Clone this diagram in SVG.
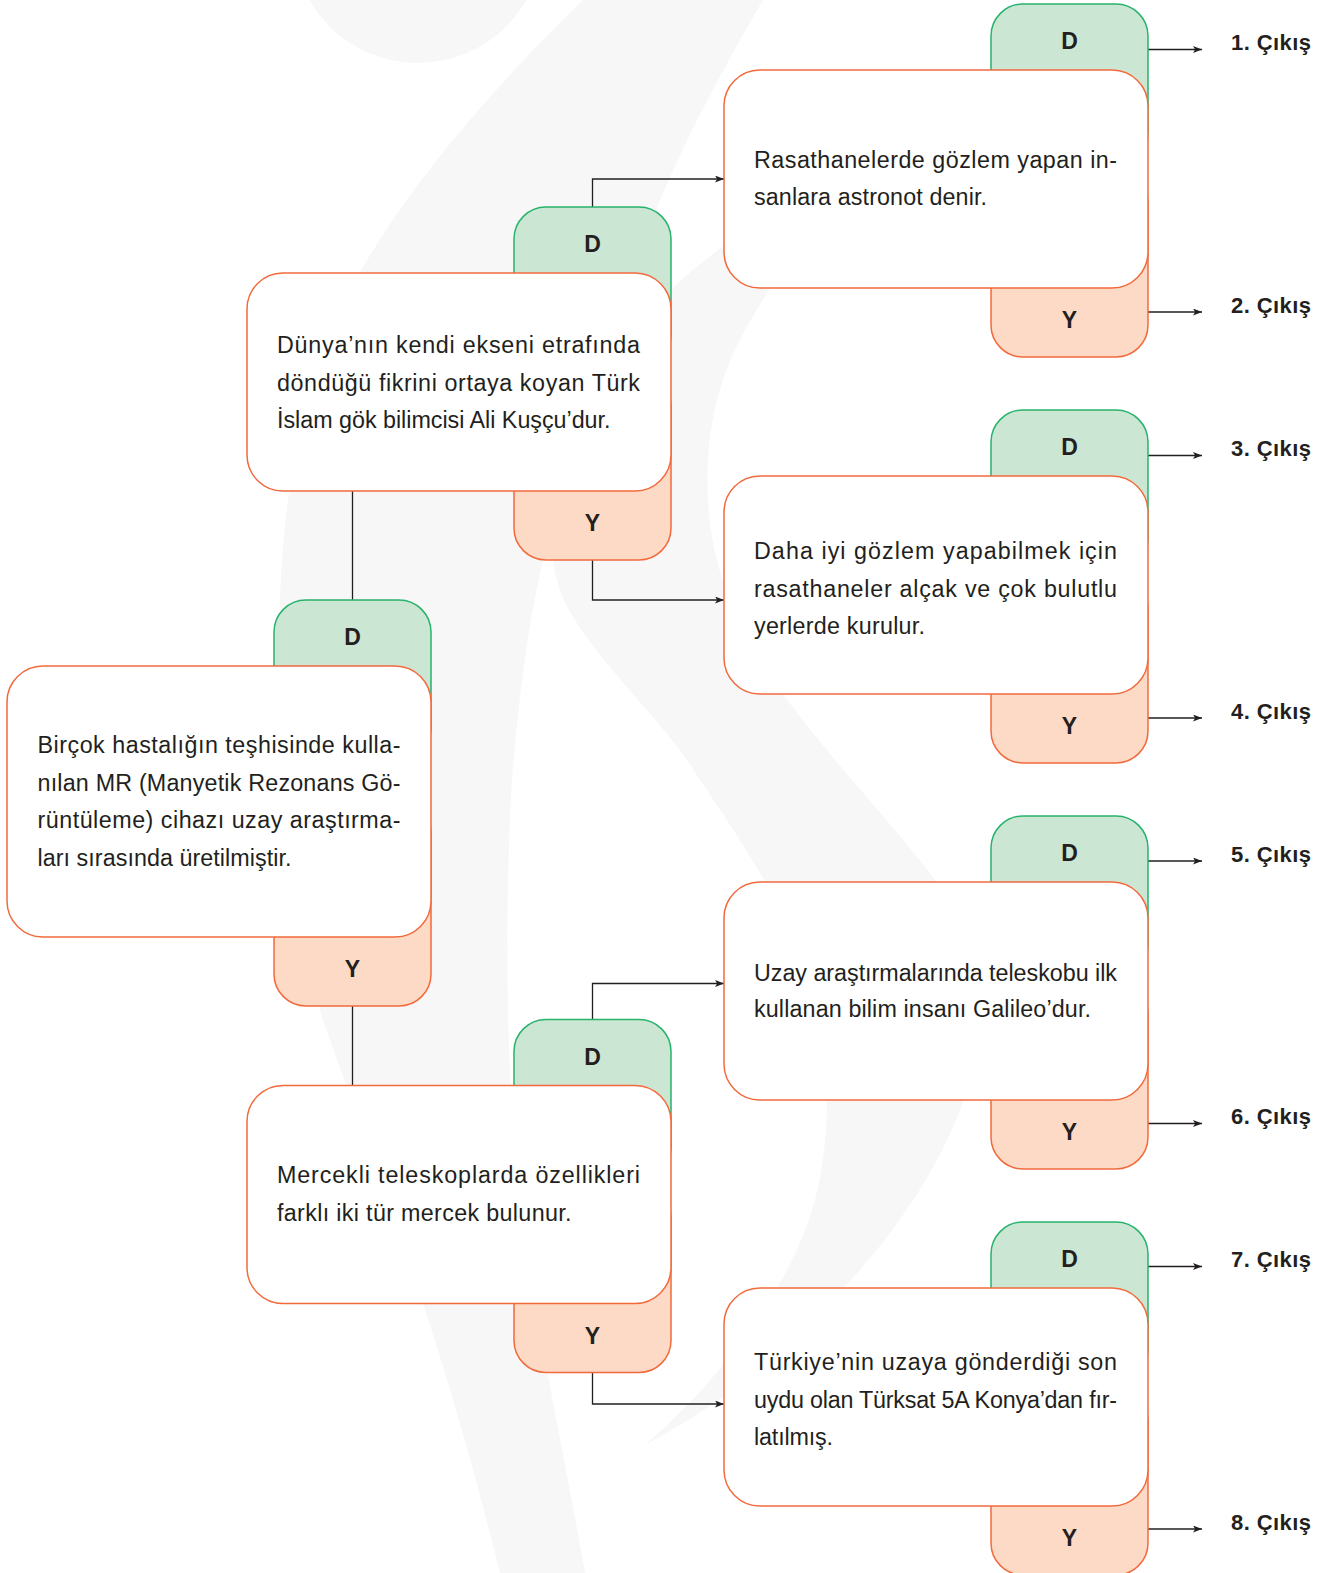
<svg xmlns="http://www.w3.org/2000/svg" width="1335" height="1573" viewBox="0 0 1335 1573">
<defs>
<style>
.wm{fill:#f7f7f7;stroke:none}
.box{fill:#ffffff;stroke:#f26a3c;stroke-width:1.5}
.tabD{fill:#cce6d4;stroke:#27b36c;stroke-width:1.5}
.tabY{fill:#fcdac5;stroke:#f26a3c;stroke-width:1.5}
.txt{font-family:"Liberation Sans",Arial,sans-serif;font-size:23.3px;fill:#231f20}
.lbl{font-family:"Liberation Sans",Arial,sans-serif;font-weight:bold;font-size:23px;fill:#231f20;text-anchor:middle}
.out{font-family:"Liberation Sans",Arial,sans-serif;font-weight:bold;font-size:22px;fill:#231f20}
.conn{stroke:#231f20;stroke-width:1.3;fill:none}
</style>
<marker id="arr" markerUnits="userSpaceOnUse" markerWidth="10" markerHeight="8" refX="9" refY="3.5" orient="auto">
<path d="M0,0 L9,3.5 L0,7 L2.2,3.5 Z" fill="#231f20"/>
</marker>
</defs>
<rect x="0" y="0" width="1335" height="1573" fill="#ffffff"/>
<g id="watermark">
<circle class="wm" cx="418" cy="-62" r="125"/>
<path class="wm" d="M583,0 C470,110 380,220 330,330 C285,440 275,580 280,720 C285,860 300,960 330,1040 C380,1180 440,1330 500,1573 L585,1573 C560,1430 530,1300 518,1180 C505,1060 505,900 512,780 C520,680 532,600 548,540 C570,440 610,330 660,200 C690,130 725,65 763,0 Z"/>
<path class="wm" d="M860,170 C815,215 780,270 745,330 C715,385 705,440 708,500 C712,570 735,625 780,690 C830,760 900,830 950,900 C990,960 990,1040 960,1110 C925,1200 860,1280 770,1360 C730,1395 690,1420 645,1445 C720,1380 790,1290 815,1200 C835,1120 830,1030 800,950 C770,880 720,810 680,750 C640,700 600,660 575,620 C552,585 545,545 560,480 C580,420 620,350 660,300 C720,240 790,200 860,170 Z"/>
</g>
<g id="connectors">
<line class="conn" x1="352.5" y1="491" x2="352.5" y2="600"/>
<line class="conn" x1="352.5" y1="1006" x2="352.5" y2="1085.5"/>
<polyline class="conn" points="592.5,207 592.5,179 724,179" marker-end="url(#arr)"/>
<polyline class="conn" points="592.5,560 592.5,600 724,600" marker-end="url(#arr)"/>
<polyline class="conn" points="592.5,1019.5 592.5,983.5 724,983.5" marker-end="url(#arr)"/>
<polyline class="conn" points="592.5,1372.5 592.5,1404 724,1404" marker-end="url(#arr)"/>
<line class="conn" x1="1148" y1="49.5" x2="1202" y2="49.5" marker-end="url(#arr)"/>
<line class="conn" x1="1148" y1="312" x2="1202" y2="312" marker-end="url(#arr)"/>
<line class="conn" x1="1148" y1="455.5" x2="1202" y2="455.5" marker-end="url(#arr)"/>
<line class="conn" x1="1148" y1="718" x2="1202" y2="718" marker-end="url(#arr)"/>
<line class="conn" x1="1148" y1="861" x2="1202" y2="861" marker-end="url(#arr)"/>
<line class="conn" x1="1148" y1="1123.5" x2="1202" y2="1123.5" marker-end="url(#arr)"/>
<line class="conn" x1="1148" y1="1266.5" x2="1202" y2="1266.5" marker-end="url(#arr)"/>
<line class="conn" x1="1148" y1="1529" x2="1202" y2="1529" marker-end="url(#arr)"/>
</g>
<g id="node-root">
<rect class="tabD" x="274" y="600" width="157" height="160" rx="32"/>
<rect class="tabY" x="274" y="800" width="157" height="206" rx="32"/>
<rect class="box" x="7" y="666" width="424" height="271" rx="36"/>
<text class="lbl" x="352.5" y="645">D</text>
<text class="lbl" x="352.5" y="977">Y</text>
<text class="txt" x="37.5" y="753.3" textLength="363" lengthAdjust="spacing">Birçok hastalığın teşhisinde kulla-</text>
<text class="txt" x="37.5" y="790.8" textLength="363" lengthAdjust="spacing">nılan MR (Manyetik Rezonans Gö-</text>
<text class="txt" x="37.5" y="828.3" textLength="363" lengthAdjust="spacing">rüntüleme) cihazı uzay araştırma-</text>
<text class="txt" x="37.5" y="865.8" textLength="254" lengthAdjust="spacing">ları sırasında üretilmiştir.</text>
</g>
<g id="node-a">
<rect class="tabD" x="514" y="207" width="157" height="160" rx="32"/>
<rect class="tabY" x="514" y="373" width="157" height="187" rx="32"/>
<rect class="box" x="247" y="273" width="424" height="218" rx="36"/>
<text class="lbl" x="592.5" y="252">D</text>
<text class="lbl" x="592.5" y="531">Y</text>
<text class="txt" x="277" y="353.3" textLength="363" lengthAdjust="spacing">Dünya’nın kendi ekseni etrafında</text>
<text class="txt" x="277" y="390.8" textLength="363" lengthAdjust="spacing">döndüğü fikrini ortaya koyan Türk</text>
<text class="txt" x="277" y="428.3" textLength="333.5" lengthAdjust="spacing">İslam gök bilimcisi Ali Kuşçu’dur.</text>
</g>
<g id="node-b">
<rect class="tabD" x="514" y="1019.5" width="157" height="160" rx="32"/>
<rect class="tabY" x="514" y="1185.5" width="157" height="187" rx="32"/>
<rect class="box" x="247" y="1085.5" width="424" height="218" rx="36"/>
<text class="lbl" x="592.5" y="1064.5">D</text>
<text class="lbl" x="592.5" y="1343.5">Y</text>
<text class="txt" x="277" y="1183.3" textLength="363" lengthAdjust="spacing">Mercekli teleskoplarda özellikleri</text>
<text class="txt" x="277" y="1220.8" textLength="294.5" lengthAdjust="spacing">farklı iki tür mercek bulunur.</text>
</g>
<g id="node-r1">
<rect class="tabD" x="991" y="4" width="157" height="160" rx="32"/>
<rect class="tabY" x="991" y="170" width="157" height="187" rx="32"/>
<rect class="box" x="724" y="70" width="424" height="218" rx="36"/>
<text class="lbl" x="1069.5" y="49">D</text>
<text class="lbl" x="1069.5" y="328">Y</text>
<text class="txt" x="754" y="167.5" textLength="363" lengthAdjust="spacing">Rasathanelerde gözlem yapan in-</text>
<text class="txt" x="754" y="205" textLength="233" lengthAdjust="spacing">sanlara astronot denir.</text>
</g>
<g id="node-r2">
<rect class="tabD" x="991" y="410" width="157" height="160" rx="32"/>
<rect class="tabY" x="991" y="576" width="157" height="187" rx="32"/>
<rect class="box" x="724" y="476" width="424" height="218" rx="36"/>
<text class="lbl" x="1069.5" y="455">D</text>
<text class="lbl" x="1069.5" y="734">Y</text>
<text class="txt" x="754" y="559" textLength="363" lengthAdjust="spacing">Daha iyi gözlem yapabilmek için</text>
<text class="txt" x="754" y="596.5" textLength="363" lengthAdjust="spacing">rasathaneler alçak ve çok bulutlu</text>
<text class="txt" x="754" y="634" textLength="171" lengthAdjust="spacing">yerlerde kurulur.</text>
</g>
<g id="node-r3">
<rect class="tabD" x="991" y="816" width="157" height="160" rx="32"/>
<rect class="tabY" x="991" y="982" width="157" height="187" rx="32"/>
<rect class="box" x="724" y="882" width="424" height="218" rx="36"/>
<text class="lbl" x="1069.5" y="861">D</text>
<text class="lbl" x="1069.5" y="1140">Y</text>
<text class="txt" x="754" y="980.5" textLength="363" lengthAdjust="spacing">Uzay araştırmalarında teleskobu ilk</text>
<text class="txt" x="754" y="1017" textLength="337" lengthAdjust="spacing">kullanan bilim insanı Galileo’dur.</text>
</g>
<g id="node-r4">
<rect class="tabD" x="991" y="1222" width="157" height="160" rx="32"/>
<rect class="tabY" x="991" y="1388" width="157" height="187" rx="32"/>
<rect class="box" x="724" y="1288" width="424" height="218" rx="36"/>
<text class="lbl" x="1069.5" y="1267">D</text>
<text class="lbl" x="1069.5" y="1546">Y</text>
<text class="txt" x="754" y="1370.3" textLength="363" lengthAdjust="spacing">Türkiye’nin uzaya gönderdiği son</text>
<text class="txt" x="754" y="1407.8" textLength="363" lengthAdjust="spacing">uydu olan Türksat 5A Konya’dan fır-</text>
<text class="txt" x="754" y="1445.3" textLength="79" lengthAdjust="spacing">latılmış.</text>
</g>
<g id="outputs">
<text class="out" x="1231" y="50" textLength="80" lengthAdjust="spacing">1. Çıkış</text>
<text class="out" x="1231" y="312.5" textLength="80" lengthAdjust="spacing">2. Çıkış</text>
<text class="out" x="1231" y="456" textLength="80" lengthAdjust="spacing">3. Çıkış</text>
<text class="out" x="1231" y="718.5" textLength="80" lengthAdjust="spacing">4. Çıkış</text>
<text class="out" x="1231" y="861.5" textLength="80" lengthAdjust="spacing">5. Çıkış</text>
<text class="out" x="1231" y="1124" textLength="80" lengthAdjust="spacing">6. Çıkış</text>
<text class="out" x="1231" y="1267" textLength="80" lengthAdjust="spacing">7. Çıkış</text>
<text class="out" x="1231" y="1529.5" textLength="80" lengthAdjust="spacing">8. Çıkış</text>
</g>
</svg>
